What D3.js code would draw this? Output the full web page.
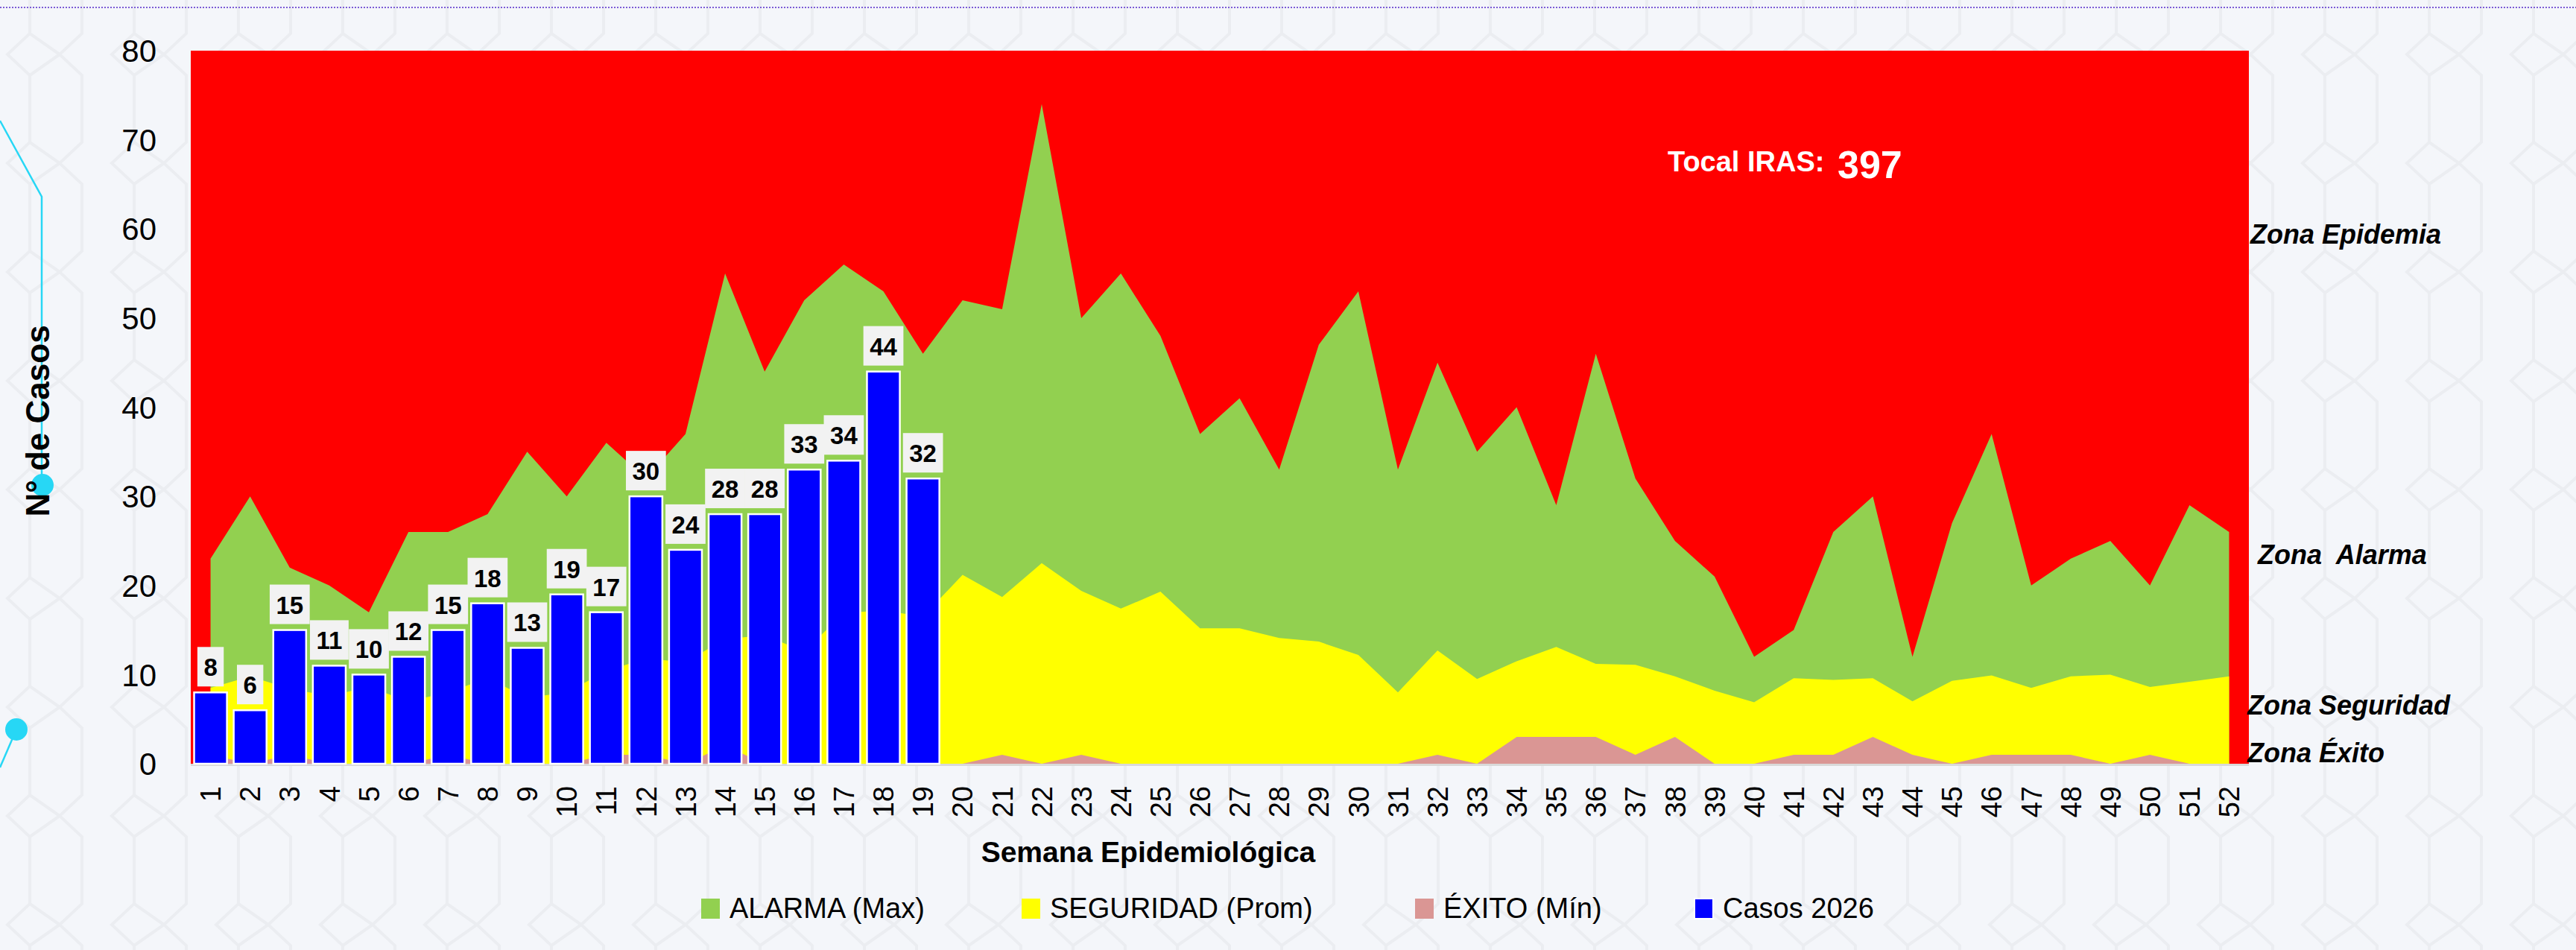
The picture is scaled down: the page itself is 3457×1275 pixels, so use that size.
<!DOCTYPE html>
<html>
<head>
<meta charset="utf-8">
<script src="https://cdn.jsdelivr.net/npm/d3@7"></script>
<style>
html,body{margin:0;padding:0;background:#f4f6fa;overflow:hidden}
svg{display:block}
</style>
</head>
<body>
<svg id="chart" width="3457" height="1275"></svg>
<script>
// ---------- DATA ----------
const weeks = d3.range(1, 53).map(String);
const alarmaMax = [23,30,22,20,17,26,26,28,35,30,36,32,37,55,44,52,56,53,46,52,51,74,50,55,48,37,41,33,47,53,33,45,35,40,29,46,32,25,21,12,15,26,30,12,27,37,20,23,25,20,29,26];
const seguridadProm = [8.5,9.8,8.4,7.6,8.6,7.0,8.0,9.6,7.4,8.0,10.4,11.8,11.4,14.0,14.4,12.6,16.9,17.2,16.5,
  21.2,18.7,22.5,19.4,17.4,19.3,15.2,15.2,14.1,13.7,12.2,8.0,12.7,9.5,11.5,13.1,11.2,11.1,9.8,8.2,6.9,9.6,9.4,9.6,7.0,9.3,9.9,8.5,9.8,10.0,8.6,9.2,9.8];
const exitoMin = [1,0,1,0,0,0,1,0,0,0,1,1,0,2,0,0,0,0,0,
  0,1,0,1,0,0,0,0,0,0,0,0,1,0,3,3,3,1,3,0,0,1,1,3,1,0,1,1,1,0,1,0,0];
const casos2026 = [8,6,15,11,10,12,15,18,13,19,17,30,24,28,28,33,34,44,32];
const yTicks = [0,10,20,30,40,50,60,70,80];
const legendLabels = ["ALARMA (Max)", "SEGURIDAD (Prom)", "ÉXITO (Mín)", "Casos 2026"];
const zoneLabels = ["Zona Epidemia", "Zona  Alarma", "Zona Seguridad", "Zona Éxito"];
const totalLabel = "Tocal IRAS:";
const totalValue = d3.sum(casos2026);

// ---------- SETUP ----------
const svg = d3.select("#chart");
const W = 3457, H = 1275;
const plot = {left: 256, right: 3018, top: 68, bottom: 1025};
const colors = {epidemia:"#ff0000", alarma:"#92d050", seguridad:"#ffff00", exito:"#da9694", casos:"#0000ff"};

const x = d3.scaleBand().domain(weeks).range([plot.left, plot.right]).paddingInner(0.17).paddingOuter(0.085);
const cx = w => x(w) + x.bandwidth() / 2;
const y = d3.scaleLinear().domain([0, 80]).range([plot.bottom, plot.top]);

// background
const defs = svg.append("defs");
const pat = defs.append("pattern").attr("id","hex").attr("patternUnits","userSpaceOnUse")
  .attr("width",140).attr("height",146);
pat.append("path")
  .attr("d","M40,0 V45 L10,73 L40,101 V146 M110,0 V45 L80,73 L110,101 V146 M40,45 L80,73 M40,101 L80,73")
  .attr("fill","none").attr("stroke","#e9ebef").attr("stroke-width",4);
svg.append("rect").attr("width",W).attr("height",H).attr("fill","#f4f6fa");
svg.append("rect").attr("width",W).attr("height",H).attr("fill","url(#hex)").attr("opacity",0.8);

// top dotted line
svg.append("line").attr("x1",0).attr("x2",W).attr("y1",10).attr("y2",10)
  .attr("stroke","#7c5cd6").attr("stroke-width",2).attr("stroke-dasharray","2,2");

// cyan decoration
const cyan = "#27d7f5";
svg.append("path").attr("d", d3.line()([[0,162],[56,264],[56,651]]))
  .attr("fill","none").attr("stroke",cyan).attr("stroke-width",2.5);
svg.append("path").attr("d", d3.line()([[22,979],[0,1030]]))
  .attr("fill","none").attr("stroke",cyan).attr("stroke-width",2.5);
svg.append("circle").attr("cx",57).attr("cy",651).attr("r",15).attr("fill",cyan);
svg.append("circle").attr("cx",22).attr("cy",979).attr("r",15).attr("fill",cyan);

// plot background (Zona Epidemia)
svg.append("rect").attr("x",plot.left).attr("y",plot.top)
  .attr("width",plot.right-plot.left).attr("height",plot.bottom-plot.top)
  .attr("fill",colors.epidemia);

// areas
function drawArea(vals, color){
  const area = d3.area()
    .x((d,i) => cx(weeks[i]))
    .y0(y(0))
    .y1(d => y(d));
  svg.append("path").datum(vals).attr("d", area).attr("fill", color);
}
drawArea(alarmaMax, colors.alarma);
drawArea(seguridadProm, colors.seguridad);
drawArea(exitoMin, colors.exito);

// x axis line
svg.append("line").attr("x1",plot.left).attr("x2",plot.right)
  .attr("y1",plot.bottom+1.5).attr("y2",plot.bottom+1.5)
  .attr("stroke","#d9d9d9").attr("stroke-width",3);

// bars
svg.append("g").selectAll("rect").data(casos2026).join("rect")
  .attr("x",(d,i)=>x(weeks[i]))
  .attr("y",d=>y(d))
  .attr("width",x.bandwidth())
  .attr("height",d=>y(0)-y(d))
  .attr("fill",colors.casos)
  .attr("stroke","#ffffff").attr("stroke-width",2.5);

// data labels
const lblG = svg.append("g");
casos2026.forEach((v,i)=>{
  const g = lblG.append("g");
  const boxBottom = y(v) - 8;
  const t = g.append("text")
    .attr("x", cx(weeks[i])).attr("y", boxBottom - 14)
    .attr("text-anchor","middle")
    .attr("font-family","'Liberation Sans', Arial, sans-serif")
    .attr("font-weight","bold").attr("font-size",33).attr("fill","#000")
    .text(v);
  const tw = t.node().getComputedTextLength();
  g.insert("rect","text")
    .attr("x", cx(weeks[i]) - tw/2 - 8.5).attr("y", boxBottom - 53)
    .attr("width", tw + 17).attr("height", 53)
    .attr("fill","#f2f2f2");
});

// y axis
const yAxis = d3.axisLeft(y).tickValues(yTicks).tickSize(0).tickPadding(0);
const yg = svg.append("g").attr("transform",`translate(210,0)`).call(yAxis);
yg.select(".domain").remove();
yg.selectAll("text").attr("font-family","'Liberation Sans', Arial, sans-serif")
  .attr("font-size",42).attr("fill","#000").attr("dy","0.35em").attr("x",0);

// x axis
const xAxis = d3.axisBottom(x).tickSize(0).tickPadding(0);
const xg = svg.append("g").attr("transform",`translate(0,${plot.bottom})`).call(xAxis);
xg.select(".domain").remove();
xg.selectAll("text")
  .attr("font-family","'Liberation Sans', Arial, sans-serif")
  .attr("font-size",38).attr("fill","#000")
  .attr("transform","rotate(-90)")
  .attr("text-anchor","end")
  .attr("x",-30).attr("y",0).attr("dy","0.36em");

// axis titles
svg.append("text").attr("transform","translate(66,565) rotate(-90)")
  .attr("text-anchor","middle")
  .attr("font-family","'Liberation Sans', Arial, sans-serif")
  .attr("font-weight","bold").attr("font-size",44).attr("fill","#000")
  .text("N° de Casos");
svg.append("text").attr("x",1541).attr("y",1157)
  .attr("text-anchor","middle")
  .attr("font-family","'Liberation Sans', Arial, sans-serif")
  .attr("font-weight","bold").attr("font-size",39).attr("fill","#000")
  .text("Semana Epidemiológica");

// total label
svg.append("text").attr("x",2238).attr("y",230)
  .attr("font-family","'Liberation Sans', Arial, sans-serif")
  .attr("font-weight","bold").attr("font-size",38).attr("fill","#fff")
  .text(totalLabel);
svg.append("text").attr("x",2466).attr("y",239)
  .attr("font-family","'Liberation Sans', Arial, sans-serif")
  .attr("font-weight","bold").attr("font-size",52).attr("fill","#fff")
  .text(totalValue);

// zone labels
const zonePos = [[3020,327],[3030,757],[3016,959],[3016,1023]];
zoneLabels.forEach((z,i)=>{
  svg.append("text").attr("x",zonePos[i][0]).attr("y",zonePos[i][1])
    .attr("font-family","'Liberation Sans', Arial, sans-serif")
    .attr("font-weight","bold").attr("font-style","italic").attr("font-size",36)
    .attr("fill","#000").style("white-space","pre")
    .text(z);
});

// legend
const legColors = [colors.alarma, colors.seguridad, colors.exito, colors.casos];
const legX = [941, 1371, 1899, 2274];
legendLabels.forEach((l,i)=>{
  svg.append("rect").attr("x",legX[i]).attr("y",1206).attr("width",25).attr("height",27)
    .attr("fill",legColors[i])
    .attr("stroke", i===3 ? "#fff" : "none").attr("stroke-width",2);
  svg.append("text").attr("x",legX[i]+38).attr("y",1232)
    .attr("font-family","'Liberation Sans', Arial, sans-serif")
    .attr("font-size",38).attr("fill","#000")
    .text(l);
});
</script>
</body>
</html>
